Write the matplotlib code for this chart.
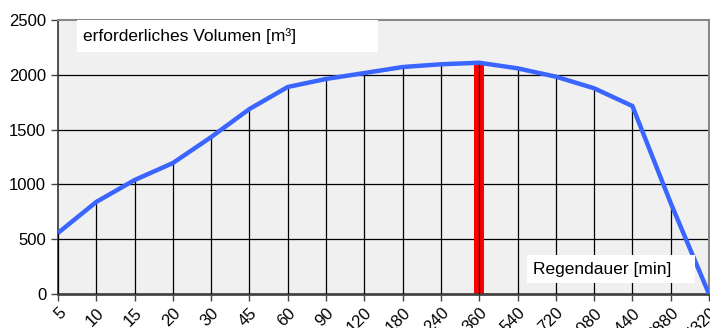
import matplotlib.pyplot as plt
from matplotlib.patches import Rectangle

plt.rcParams['font.family'] = ['Liberation Sans', 'DejaVu Sans']

dauer = ['5', '10', '15', '20', '30', '45', '60', '90', '120', '180', '240',
         '360', '540', '720', '1080', '1440', '2880', '4320']
volumen = [557, 840, 1040, 1195, 1432, 1688, 1889, 1962, 2016, 2071, 2096,
           2110, 2059, 1983, 1877, 1715, 830, 0]
massgebend = '360'

x = list(range(len(dauer)))
fig = plt.figure(figsize=(7.1, 3.28), dpi=100)
ax = fig.add_axes([58 / 710, 34 / 328, 651 / 710, 274 / 328])
ax.set_facecolor('#f0f0f0')

# horizontal grid
for v in [500, 1000, 1500, 2000]:
    ax.axhline(v, color='black', lw=0.9, zorder=1)

# red marker bar at the design duration
i = dauer.index(massgebend)
ax.bar(x[i], volumen[i], width=0.26, color='#ff0000', zorder=2)

# drop lines
ax.vlines(x, 0, volumen, color='black', lw=0.9, zorder=3)

ax.plot(x, volumen, color='#3a66ff', lw=3.2, zorder=4, solid_capstyle='butt')

ax.set_xlim(0, len(dauer) - 1)
ax.set_ylim(0, 2500)
ax.set_yticks([0, 500, 1000, 1500, 2000, 2500])
ax.set_xticks(x)
ax.set_xticklabels(dauer, rotation=45, ha='right', va='top',
                   rotation_mode='anchor')
ax.tick_params(axis='both', labelsize=12, length=5, width=1, color='#444444')
ax.tick_params(axis='x', pad=3)

for s in ['top', 'right']:
    ax.spines[s].set_color('#888888')
    ax.spines[s].set_linewidth(1.5)
ax.spines['left'].set_color('#333333')
ax.spines['left'].set_linewidth(1.2)
ax.spines['bottom'].set_color('#444444')
ax.spines['bottom'].set_linewidth(2)

# label boxes
ax.add_patch(Rectangle((0.029, 0.883), 0.463, 0.117, transform=ax.transAxes,
                       facecolor='white', edgecolor='none', zorder=5))
ax.text(0.038, 0.94, 'erforderliches Volumen [m³]', transform=ax.transAxes,
        fontsize=12.5, ha='left', va='center', zorder=6)
ax.add_patch(Rectangle((0.720, 0.040), 0.258, 0.102, transform=ax.transAxes,
                       facecolor='white', edgecolor='none', zorder=5))
ax.text(0.729, 0.09, 'Regendauer [min]', transform=ax.transAxes,
        fontsize=12.5, ha='left', va='center', zorder=6)

fig.savefig('out.png', dpi=100)
